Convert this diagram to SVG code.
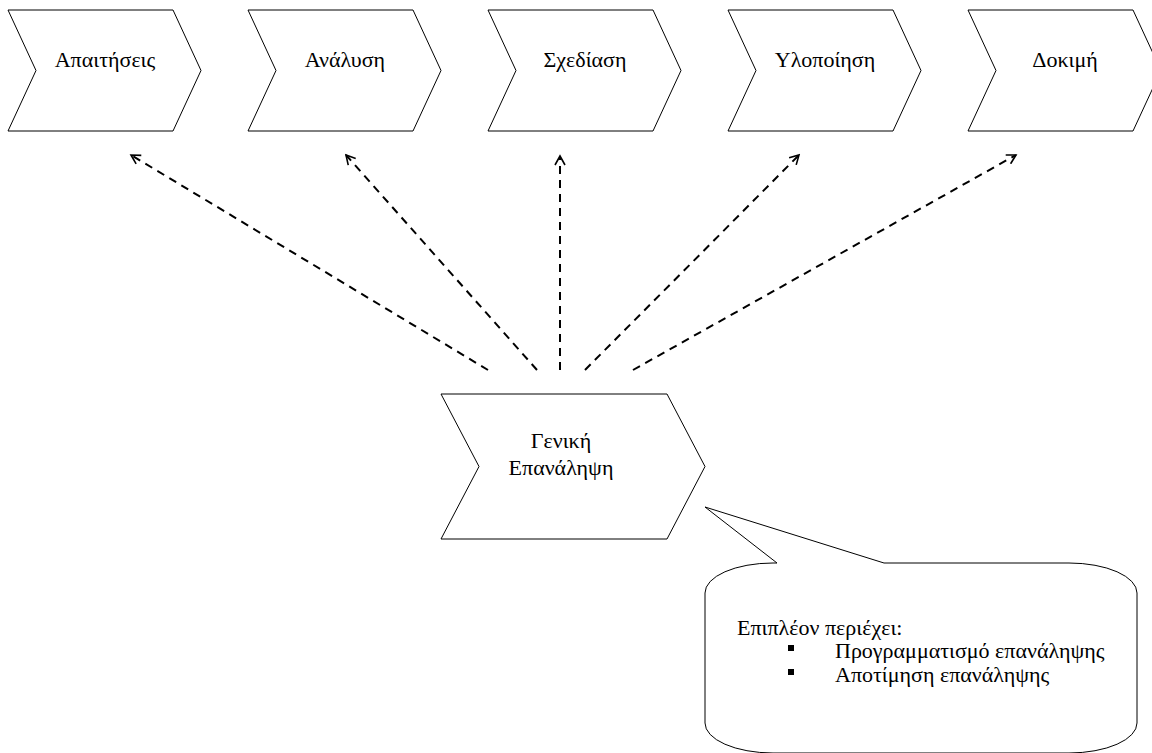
<svg xmlns="http://www.w3.org/2000/svg" width="1152" height="753" viewBox="0 0 1152 753">
  <style>
    .shape { fill: #ffffff; stroke: #000000; stroke-width: 1; }
    .label { font-family: "Liberation Serif", "Times New Roman", "DejaVu Serif", serif; font-size: 22px; fill: #000000; text-anchor: middle; }
    .note { font-family: "Liberation Serif", "Times New Roman", "DejaVu Serif", serif; font-size: 22px; fill: #000000; }
    .link { fill: none; stroke: #000000; stroke-width: 2; stroke-dasharray: 8 6; }
  </style>
  <defs>
    <marker id="open-arrow" viewBox="0 0 12 12" refX="10" refY="6" markerWidth="12" markerHeight="12" markerUnits="userSpaceOnUse" orient="auto">
      <path d="M1,1 L10,6 L1,11" fill="none" stroke="#000000" stroke-width="1.6"/>
    </marker>
  </defs>

  <rect width="1152" height="753" fill="#ffffff"/>

  <!-- process phases -->
  <g id="phase-requirements">
    <polygon class="shape" points="8,10 173,10 201,70.5 173,131 8,131 36,70.5"/>
    <text class="label" x="105" y="67">Απαιτήσεις</text>
  </g>
  <g id="phase-analysis">
    <polygon class="shape" points="248,10 413,10 441,70.5 413,131 248,131 276,70.5"/>
    <text class="label" x="345" y="67">Ανάλυση</text>
  </g>
  <g id="phase-design">
    <polygon class="shape" points="488,10 653,10 681,70.5 653,131 488,131 516,70.5"/>
    <text class="label" x="585" y="67">Σχεδίαση</text>
  </g>
  <g id="phase-implementation">
    <polygon class="shape" points="728,10 893,10 921,70.5 893,131 728,131 756,70.5"/>
    <text class="label" x="825" y="67">Υλοποίηση</text>
  </g>
  <g id="phase-testing">
    <polygon class="shape" points="968,10 1133,10 1161,70.5 1133,131 968,131 996,70.5"/>
    <text class="label" x="1065" y="67">Δοκιμή</text>
  </g>

  <!-- overall iteration -->
  <g id="iteration">
    <polygon class="shape" points="441,394 667,394 705,466.5 667,539 441,539 479,466.5"/>
    <text class="label" x="561" y="448">Γενική</text>
    <text class="label" x="561" y="475">Επανάληψη</text>
  </g>

  <!-- dashed links from the iteration to each phase -->
  <g id="connectors">
    <line class="link" x1="488" y1="370" x2="131" y2="155" marker-end="url(#open-arrow)"/>
    <line class="link" x1="537" y1="370" x2="346" y2="155" marker-end="url(#open-arrow)"/>
    <line class="link" x1="560" y1="370" x2="560" y2="156" marker-end="url(#open-arrow)"/>
    <line class="link" x1="585" y1="370" x2="799" y2="155" marker-end="url(#open-arrow)"/>
    <line class="link" x1="633" y1="370" x2="1016" y2="155" marker-end="url(#open-arrow)"/>
  </g>

  <!-- callout note -->
  <g id="note">
    <path class="shape" d="M777,563 L705,507 L884,563 L1069,563 A68,30 0 0 1 1137,593 L1137,723 A68,30 0 0 1 1069,753 L773,753 A68,30 0 0 1 705,723 L705,593 A68,30 0 0 1 773,563 Z"/>
    <text class="note" x="737" y="635">Επιπλέον περιέχει:</text>
    <rect x="788" y="645" width="6" height="6" fill="#000000"/>
    <text class="note" x="835" y="658">Προγραμματισμό επανάληψης</text>
    <rect x="788" y="669" width="6" height="6" fill="#000000"/>
    <text class="note" x="835" y="682">Αποτίμηση επανάληψης</text>
  </g>
</svg>
